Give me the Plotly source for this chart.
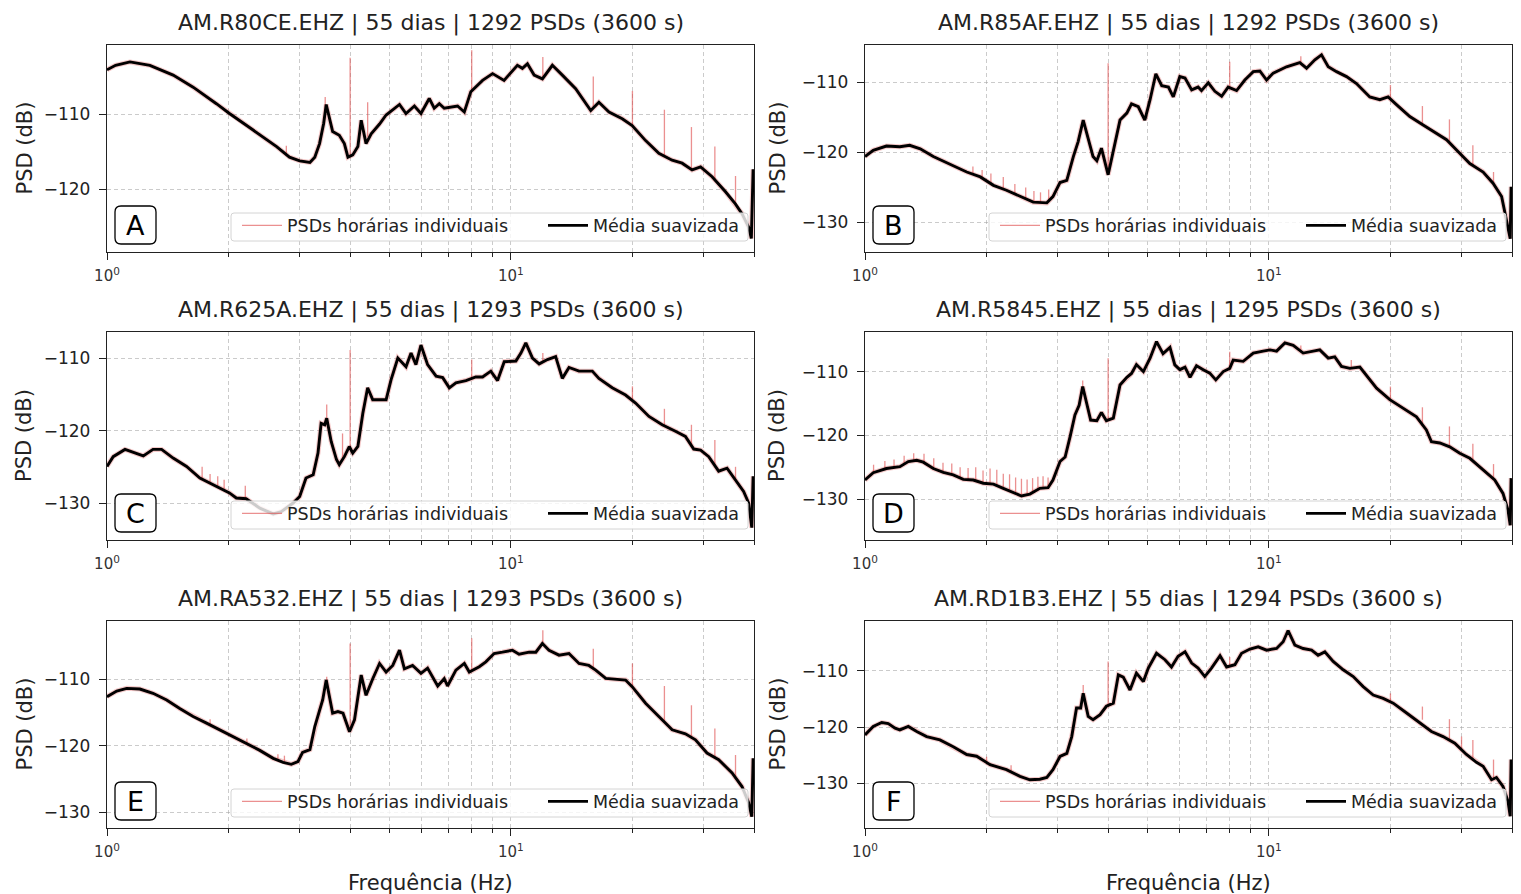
import math
import plotly.graph_objects as go

FIG_W, FIG_H = 1521, 894
FONT = "DejaVu Sans"

# ------------------------------------------------------------------ data
titles = [
    "AM.R80CE.EHZ | 55 dias | 1292 PSDs (3600 s)",
    "AM.R85AF.EHZ | 55 dias | 1292 PSDs (3600 s)",
    "AM.R625A.EHZ | 55 dias | 1293 PSDs (3600 s)",
    "AM.R5845.EHZ | 55 dias | 1295 PSDs (3600 s)",
    "AM.RA532.EHZ | 55 dias | 1293 PSDs (3600 s)",
    "AM.RD1B3.EHZ | 55 dias | 1294 PSDs (3600 s)",
]
panel_labels = ["A", "B", "C", "D", "E", "F"]
legend_names = ["PSDs horárias individuais", "Média suavizada"]
x_title = "Frequência (Hz)"
y_title = "PSD (dB)"
x_tickvals = [1, 10]
x_ticktext = ["10<sup>0</sup>", "10<sup>1</sup>"]
x_minor_tickvals = [2, 3, 4, 5, 6, 7, 8, 9, 20, 30, 40]

# --- Panel A (AM.R80CE)
freq_A = [1.0, 1.05, 1.14, 1.277, 1.458, 1.634, 1.866, 2.01, 2.30, 2.63, 2.83, 3.0, 3.18, 3.27,
          3.36, 3.44, 3.49, 3.56, 3.62, 3.76, 3.87, 3.95, 4.06, 4.18, 4.26, 4.38, 4.51, 4.73,
          4.91, 5.30, 5.5, 5.77, 5.99, 6.28, 6.46, 6.65, 6.84, 7.38, 7.67, 7.96, 8.51, 9.01,
          9.62, 10.38, 10.68, 10.99, 11.42, 11.97, 12.67, 13.41, 14.47, 15.77, 16.52, 17.5,
          18.87, 19.97, 21.56, 23.25, 25.08, 26.55, 28.1, 29.5, 31.5, 34.0, 35.97, 37.35,
          38.8, 39.4, 39.8]
psd_A = [-104.1, -103.5, -103.05, -103.5, -104.8, -106.4, -108.6, -109.9, -112.1, -114.3, -115.7,
         -116.2, -116.4, -115.7, -113.9, -111.2, -108.7, -110.8, -112.3, -112.8, -113.9, -115.7,
         -115.4, -114.3, -110.8, -113.9, -112.6, -111.3, -110.1, -108.7, -109.9, -108.9, -109.9,
         -107.9, -109.2, -108.6, -109.2, -108.9, -109.7, -107.0, -105.5, -104.6, -105.5, -103.5,
         -103.9, -103.3, -104.8, -105.3, -103.5, -104.8, -106.6, -109.5, -108.4, -109.7, -110.6,
         -111.5, -113.5, -115.2, -116.1, -116.5, -117.4, -117.0, -118.3, -120.3, -121.9, -123.2,
         -125.0, -126.5, -117.3]
spike_f_A = [2.78, 3.47, 4.0, 4.42, 8.0, 12.0, 16.0, 20.0, 24.0, 28.0, 32.0, 36.0]
spike_lo_A = [-115.5, -109.5, -115.5, -113.0, -107.0, -105.2, -109.3, -111.5, -115.4, -117.3, -118.8, -122.0]
spike_hi_A = [-114.2, -107.7, -102.5, -108.4, -101.5, -102.4, -105.0, -106.9, -109.4, -111.7, -114.3, -118.2]

# --- Panel B (AM.R85AF)
freq_B = [1.0, 1.048, 1.13, 1.22, 1.29, 1.37, 1.476, 1.62, 1.786, 1.93, 2.08, 2.24, 2.42, 2.61,
          2.82, 2.92, 3.04, 3.16, 3.28, 3.37, 3.47, 3.57, 3.67, 3.75, 3.85, 4.0, 4.12, 4.28, 4.45,
          4.57, 4.75, 4.93, 5.08, 5.25, 5.43, 5.64, 5.8, 6.02, 6.2, 6.44, 6.68, 6.81, 7.08, 7.35,
          7.64, 7.93, 8.32, 8.72, 9.15, 9.5, 9.87, 10.25, 11.06, 11.93, 12.4, 13.0, 13.5, 14.03,
          14.71, 15.57, 16.48, 17.78, 18.83, 19.74, 20.7, 22.34, 24.1, 26.0, 27.54, 29.44, 31.45,
          33.93, 35.9, 37.7, 38.7, 39.6, 39.8]
psd_B = [-120.6, -119.7, -119.1, -119.2, -119.0, -119.5, -120.6, -121.7, -122.8, -123.5, -124.7,
         -125.4, -126.3, -127.1, -127.2, -126.3, -124.3, -124.0, -120.6, -118.5, -115.4, -118.2,
         -120.6, -121.2, -119.4, -123.2, -119.7, -115.4, -114.4, -113.1, -113.5, -115.4, -112.5,
         -108.8, -110.5, -110.7, -112.1, -109.2, -109.4, -111.1, -110.7, -111.2, -110.1, -111.3,
         -112.0, -110.7, -111.2, -109.7, -108.5, -108.4, -109.7, -108.7, -107.8, -107.2, -108.0,
         -106.8, -106.1, -107.8, -108.5, -109.2, -110.2, -112.1, -112.5, -112.1, -113.2, -114.9,
         -116.1, -117.3, -118.2, -119.9, -121.6, -122.8, -124.4, -126.3, -129.7, -132.3, -124.9]
spike_f_B = [1.85, 1.95, 2.05, 2.2, 2.35, 2.5, 2.62, 2.72, 2.85, 4.0, 8.0, 12.0, 20.0, 24.0, 28.0, 32.0, 36.0]
spike_lo_B = [-123.1, -123.6, -124.5, -125.2, -125.9, -126.6, -127.1, -127.2, -127.1,
              -123.2, -110.7, -107.5, -112.3, -115.8, -118.5, -121.8, -124.4]
spike_hi_B = [-122.0, -122.5, -123.0, -123.5, -124.5, -125.0, -125.5, -125.7, -125.3,
              -107.3, -107.1, -106.3, -110.4, -113.4, -115.3, -119.0, -122.8]

# --- Panel C (AM.R625A)
freq_C = [1.0, 1.036, 1.108, 1.173, 1.23, 1.30, 1.365, 1.458, 1.574, 1.698, 1.83, 1.90, 2.01, 2.09,
          2.21, 2.39, 2.58, 2.70, 2.89, 3.0, 3.11, 3.24, 3.33, 3.39, 3.46, 3.50, 3.59, 3.70, 3.76,
          3.87, 3.98, 4.06, 4.18, 4.30, 4.42, 4.55, 4.91, 5.05, 5.25, 5.5, 5.66, 5.82, 5.99, 6.22,
          6.53, 6.78, 7.04, 7.31, 7.74, 8.19, 8.51, 8.92, 9.27, 9.63, 10.29, 10.59, 10.89, 11.31,
          11.75, 12.32, 12.91, 13.41, 13.93, 14.75, 15.91, 16.52, 17.82, 19.23, 20.36, 21.98, 23.7,
          25.56, 27.05, 28.37, 29.5, 30.9, 32.7, 34.3, 35.97, 37.7, 38.8, 39.5, 39.8]
psd_C = [-124.95, -123.6, -122.6, -123.1, -123.5, -122.6, -122.6, -123.8, -124.95, -126.55, -127.5,
         -127.9, -128.6, -129.3, -129.4, -130.7, -131.5, -131.2, -130.0, -129.1, -126.55, -126.1,
         -123.1, -119.0, -119.2, -118.3, -121.5, -124.0, -124.7, -123.6, -122.2, -123.1, -122.2,
         -117.6, -114.1, -115.75, -115.75, -113.0, -110.0, -111.2, -109.3, -110.9, -108.2, -110.9,
         -112.5, -112.7, -114.1, -113.4, -113.1, -112.6, -112.6, -111.8, -113.1, -110.5, -110.4,
         -109.3, -107.9, -110.0, -110.8, -110.2, -109.8, -112.8, -111.3, -111.8, -111.8, -112.8,
         -114.1, -115.1, -116.2, -118.05, -119.2, -120.1, -120.8, -122.55, -122.7, -123.6, -125.6,
         -125.2, -126.8, -128.4, -130.0, -133.4, -126.3]
spike_f_C = [1.72, 1.80, 1.88, 1.95, 2.2, 3.5, 3.83, 4.0, 8.0, 12.0, 20.0, 24.0, 28.0, 32.0, 36.0]
spike_lo_C = [-126.7, -127.2, -127.8, -128.1, -129.4, -118.5, -124.0, -122.5, -112.8, -110.5,
              -116.0, -119.3, -122.3, -125.0, -126.8]
spike_hi_C = [-125.0, -126.0, -126.3, -126.8, -127.6, -116.4, -120.4, -108.9, -110.2, -109.3,
              -113.9, -117.0, -119.2, -121.3, -125.0]

# --- Panel D (AM.R5845)
freq_D = [1.0, 1.048, 1.13, 1.22, 1.28, 1.343, 1.394, 1.476, 1.563, 1.654, 1.751, 1.854, 1.963,
          2.08, 2.20, 2.33, 2.44, 2.56, 2.71, 2.84, 2.92, 3.04, 3.13, 3.22, 3.31, 3.39, 3.46, 3.54,
          3.62, 3.75, 3.85, 3.96, 4.12, 4.28, 4.45, 4.57, 4.70, 4.89, 5.08, 5.27, 5.47, 5.69, 5.85,
          6.02, 6.2, 6.38, 6.62, 6.88, 7.14, 7.39, 7.71, 8.0, 8.16, 8.64, 9.15, 9.68, 10.06, 10.45,
          10.96, 11.49, 12.16, 12.88, 13.37, 14.03, 14.56, 15.13, 15.87, 16.80, 17.29, 18.48,
          19.93, 21.5, 23.2, 24.55, 25.27, 26.5, 28.05, 29.7, 31.45, 33.93, 36.25, 38.0, 39.1,
          39.6, 39.8]
psd_D = [-127.0, -125.85, -125.2, -124.9, -124.1, -123.9, -124.2, -125.2, -125.8, -126.2, -126.9,
         -127.0, -127.5, -127.65, -128.3, -129.0, -129.5, -129.2, -128.3, -128.2, -127.0, -124.1,
         -123.4, -120.2, -116.8, -115.3, -112.35, -115.0, -117.6, -117.7, -116.4, -117.7, -117.3,
         -112.1, -110.9, -110.3, -108.9, -110.0, -107.9, -105.3, -107.2, -106.2, -108.95, -109.7,
         -109.3, -110.9, -109.1, -109.7, -110.25, -111.3, -110.0, -109.5, -108.2, -108.4, -107.1,
         -106.8, -106.6, -106.8, -105.5, -105.9, -107.1, -106.8, -106.6, -107.9, -107.7, -109.2,
         -109.5, -109.3, -110.25, -112.6, -114.4, -115.75, -117.1, -119.15, -121.0, -121.2, -121.8,
         -122.8, -123.6, -125.4, -127.0, -129.1, -131.7, -134.1, -126.7]
spike_f_D = [1.05, 1.12, 1.18, 1.25, 1.32, 1.40, 1.48, 1.56, 1.64, 1.72, 1.80, 1.88, 1.96, 2.04,
             2.12, 2.20, 2.28, 2.36, 2.44, 2.52, 2.60, 2.68, 2.76, 2.84,
             3.46, 4.0, 8.0, 12.0, 16.0, 20.0, 24.0, 28.0, 32.0, 36.0]
spike_lo_D = [-125.8, -125.3, -125.0, -124.5, -123.9, -124.2, -125.2, -125.8, -126.1, -126.7,
              -126.9, -127.1, -127.5, -127.6, -127.8, -128.3, -128.7, -129.1, -129.5, -129.3,
              -129.0, -128.5, -128.3, -128.2,
              -112.5, -117.5, -109.5, -107.0, -109.4, -114.4, -118.5, -121.8, -123.8, -126.9]
spike_hi_D = [-124.6, -124.0, -123.8, -123.2, -122.8, -122.9, -123.6, -124.3, -124.4, -125.0,
              -125.1, -125.0, -125.5, -125.2, -125.4, -126.0, -126.1, -126.6, -126.8, -126.9,
              -126.7, -126.5, -126.4, -126.6,
              -111.4, -107.9, -106.9, -105.9, -108.2, -112.35, -115.6, -118.6, -121.3, -124.5]

# --- Panel E (AM.RA532)
freq_E = [1.0, 1.057, 1.119, 1.206, 1.30, 1.405, 1.514, 1.634, 1.764, 1.902, 2.05, 2.21, 2.39, 2.58,
          2.73, 2.86, 2.97, 3.05, 3.18, 3.27, 3.36, 3.42, 3.49, 3.56, 3.62, 3.73, 3.84, 3.985, 4.10,
          4.26, 4.38, 4.55, 4.73, 4.91, 5.1, 5.30, 5.45, 5.71, 5.99, 6.22, 6.59, 6.84, 6.97, 7.31,
          7.67, 7.89, 8.35, 8.67, 9.09, 9.53, 10.09, 10.48, 11.1, 11.53, 11.97, 12.43, 13.16,
          13.93, 14.75, 15.6, 16.22, 17.18, 18.18, 19.23, 19.97, 21.56, 23.25, 25.08, 27.05,
          28.65, 30.6, 32.7, 35.3, 37.35, 38.8, 39.5, 39.8]
psd_E = [-112.6, -111.75, -111.35, -111.45, -112.1, -113.1, -114.4, -115.6, -116.6, -117.6, -118.6,
         -119.6, -120.7, -121.9, -122.5, -122.8, -122.4, -121.0, -120.6, -117.1, -114.6, -113.1,
         -110.1, -112.85, -115.1, -114.85, -115.1, -117.9, -116.1, -109.35, -112.4, -109.9, -107.6,
         -108.9, -107.9, -105.6, -108.4, -107.9, -109.1, -108.3, -111.0, -109.9, -111.0, -108.6,
         -107.6, -108.9, -108.1, -107.35, -106.1, -105.9, -105.6, -106.2, -105.9, -105.9, -104.6,
         -105.6, -106.35, -106.1, -107.6, -107.9, -108.6, -109.85, -110.0, -110.1, -111.1, -113.6,
         -115.6, -117.6, -118.2, -119.1, -121.1, -122.1, -124.1, -126.15, -128.6, -130.7, -121.9]
spike_f_E = [1.8, 2.22, 2.65, 2.75, 3.5, 4.0, 8.0, 12.0, 16.0, 20.0, 24.0, 28.0, 32.0, 36.0]
spike_lo_E = [-116.9, -119.7, -122.2, -122.6, -110.5, -117.8, -108.7, -104.8, -108.3, -111.1,
              -116.4, -118.8, -121.8, -125.0]
spike_hi_E = [-116.0, -118.9, -121.3, -121.5, -109.6, -104.6, -103.8, -102.6, -105.4, -107.6,
              -111.0, -113.9, -117.4, -121.4]

# --- Panel F (AM.RD1B3)
freq_F = [1.0, 1.048, 1.10, 1.142, 1.187, 1.22, 1.28, 1.343, 1.421, 1.533, 1.654, 1.786, 1.89, 2.04,
          2.24, 2.42, 2.56, 2.71, 2.82, 2.92, 3.04, 3.16, 3.25, 3.34, 3.42, 3.47, 3.57, 3.67, 3.82,
          3.96, 4.12, 4.24, 4.36, 4.53, 4.70, 4.89, 5.03, 5.27, 5.53, 5.74, 5.96, 6.2, 6.44, 6.68,
          6.94, 7.21, 7.57, 7.86, 8.24, 8.56, 8.98, 9.41, 9.87, 10.45, 10.85, 11.16, 11.6, 12.16,
          12.76, 13.24, 13.76, 14.43, 15.28, 16.18, 17.12, 18.13, 19.19, 20.32, 21.93, 23.65,
          25.27, 27.0, 28.87, 30.85, 32.66, 33.93, 35.6, 36.6, 38.0, 39.1, 39.6, 39.8]
psd_F = [-121.4, -119.9, -119.2, -119.4, -120.2, -120.5, -119.9, -120.8, -121.7, -122.3, -123.5,
         -124.9, -125.2, -126.7, -127.6, -128.8, -129.4, -129.3, -129.0, -127.6, -125.25, -124.7,
         -121.7, -116.6, -116.6, -114.0, -118.1, -118.7, -117.8, -116.3, -115.75, -110.7, -111.1,
         -113.4, -110.4, -111.9, -109.5, -106.85, -108.0, -109.3, -107.4, -106.6, -108.6, -109.5,
         -111.0, -109.5, -107.3, -109.3, -108.9, -106.85, -106.1, -105.7, -106.3, -106.0, -104.8,
         -102.8, -105.4, -106.0, -106.3, -107.2, -106.6, -108.3, -109.8, -111.0, -112.8, -114.3,
         -114.9, -115.75, -117.5, -119.3, -120.8, -121.7, -122.9, -124.9, -126.3, -127.0, -129.4,
         -129.0, -130.6, -133.25, -135.9, -125.8]
spike_f_F = [2.0, 2.3, 3.47, 4.0, 8.0, 20.0, 24.0, 28.0, 30.0, 32.0, 36.0]
spike_lo_F = [-126.4, -128.0, -114.5, -116.2, -109.1, -115.6, -118.7, -122.4, -123.9, -125.8, -129.2]
spike_hi_F = [-125.3, -126.8, -112.5, -108.3, -107.5, -114.0, -116.35, -118.6, -121.7, -122.3, -125.8]

panel_data = [
    (freq_A, psd_A, spike_f_A, spike_lo_A, spike_hi_A),
    (freq_B, psd_B, spike_f_B, spike_lo_B, spike_hi_B),
    (freq_C, psd_C, spike_f_C, spike_lo_C, spike_hi_C),
    (freq_D, psd_D, spike_f_D, spike_lo_D, spike_hi_D),
    (freq_E, psd_E, spike_f_E, spike_lo_E, spike_hi_E),
    (freq_F, psd_F, spike_f_F, spike_lo_F, spike_hi_F),
]

# ------------------------------------------------------------------ layout geometry (px)
y_ranges = [(-128.3, -100.8), (-134.2, -104.7), (-135.1, -106.4),
            (-136.4, -103.8), (-132.4, -101.2), (-138.0, -101.1)]
COLS = [(107, 754), (865, 1512)]
ROWS = [(45, 252), (332, 540), (621, 828)]
YTITLE_OFFSET = [83, 88]
X_RANGE = [0, math.log10(40)]


def PX(p):
    return p / FIG_W


def PY(p):
    return 1 - p / FIG_H


def rounded_rect(x0, y0, x1, y1, r):
    return (f"M {PX(x0 + r)},{PY(y0)} L {PX(x1 - r)},{PY(y0)} Q {PX(x1)},{PY(y0)} {PX(x1)},{PY(y0 + r)} "
            f"L {PX(x1)},{PY(y1 - r)} Q {PX(x1)},{PY(y1)} {PX(x1 - r)},{PY(y1)} "
            f"L {PX(x0 + r)},{PY(y1)} Q {PX(x0)},{PY(y1)} {PX(x0)},{PY(y1 - r)} "
            f"L {PX(x0)},{PY(y0 + r)} Q {PX(x0)},{PY(y0)} {PX(x0 + r)},{PY(y0)} Z")


def legend_key(k):
    return "legend" if k == 0 else f"legend{k + 1}"


fig = go.Figure()
annotations = []
shapes = []
layout_extra = {}

GRID = "rgba(160,160,160,0.55)"
DASH = "4px,3px"
TXT = "#222222"

for i in range(6):
    row, col = divmod(i, 2)
    l, r = COLS[col]
    t, b = ROWS[row]
    sfx = "" if i == 0 else str(i + 1)
    xa, ya = "x" + sfx, "y" + sfx
    leg_red, leg_blk = legend_key(2 * i), legend_key(2 * i + 1)
    freq, psd, sf, slo, shi = panel_data[i]

    # spread of individual PSDs (faint red band under the mean)
    fig.add_trace(go.Scatter(x=freq, y=psd, mode="lines",
                             line=dict(color="rgba(214,39,40,0.25)", width=5),
                             xaxis=xa, yaxis=ya, showlegend=False, hoverinfo="skip", legend=leg_red))
    # individual PSD spikes
    sx, sy = [], []
    for f, lo, hi in zip(sf, slo, shi):
        sx += [f, f, None]
        sy += [lo, hi, None]
    fig.add_trace(go.Scatter(x=sx, y=sy, mode="lines", name=legend_names[0],
                             line=dict(color="rgba(222,70,70,0.6)", width=1.3),
                             xaxis=xa, yaxis=ya, legend=leg_red, hoverinfo="skip"))
    # smoothed mean
    fig.add_trace(go.Scatter(x=freq, y=psd, mode="lines", name=legend_names[1],
                             line=dict(color="black", width=2.9),
                             xaxis=xa, yaxis=ya, legend=leg_blk))

    layout_extra["xaxis" + sfx] = dict(
        type="log", range=X_RANGE, domain=[PX(l), PX(r)], anchor=ya, automargin=False,
        showline=True, linecolor=TXT, linewidth=1.4, mirror=True,
        tickvals=x_tickvals, ticktext=x_ticktext, ticks="outside", ticklen=7, tickwidth=1.2,
        tickcolor=TXT, tickfont=dict(family=FONT, size=15, color="#333333"),
        ticklabelstandoff=3,
        showgrid=True, gridcolor=GRID, griddash=DASH, gridwidth=1, zeroline=False,
        minor=dict(tickvals=x_minor_tickvals, ticks="outside", ticklen=4, tickwidth=1,
                   tickcolor=TXT, showgrid=True, gridcolor=GRID, griddash=DASH, gridwidth=1),
    )
    layout_extra["yaxis" + sfx] = dict(
        range=list(y_ranges[i]), domain=[PY(b), PY(t)], anchor=xa, automargin=False,
        showline=True, linecolor=TXT, linewidth=1.4, mirror=True,
        dtick=10, tick0=0, ticks="outside", ticklen=7, tickwidth=1.2, tickcolor=TXT,
        tickfont=dict(family=FONT, size=17, color=TXT), ticklabelstandoff=5,
        showgrid=True, gridcolor=GRID, griddash=DASH, gridwidth=1, zeroline=False,
    )
    # legend frame (semi-transparent white, drawn above the curves)
    shapes.append(dict(type="path", xref="paper", yref="paper", layer="above",
                       path=rounded_rect(r - 523, b - 39, r - 6, b - 11, 3),
                       line=dict(color="#d4d4d4", width=1), fillcolor="rgba(255,255,255,0.8)"))
    leg_common = dict(y=PY(b - 26.5), xanchor="left", yanchor="middle", orientation="h",
                      bgcolor="rgba(0,0,0,0)", borderwidth=0, itemwidth=40,
                      font=dict(family=FONT, size=17.5, color=TXT))
    layout_extra[leg_red] = dict(x=PX(r - 517), **leg_common)
    layout_extra[leg_blk] = dict(x=PX(r - 211), **leg_common)

    # subplot title
    annotations.append(dict(text=titles[i], x=PX((l + r) / 2), y=PY(t - 7), xref="paper", yref="paper",
                            xanchor="center", yanchor="bottom", showarrow=False,
                            font=dict(family=FONT, size=22, color=TXT)))
    # y axis title
    annotations.append(dict(text=y_title, x=PX(l - YTITLE_OFFSET[col]), y=PY((t + b) / 2),
                            xref="paper", yref="paper",
                            xanchor="center", yanchor="middle", textangle=-90, showarrow=False,
                            font=dict(family=FONT, size=21, color=TXT)))
    # x axis title (bottom row only)
    if row == 2:
        annotations.append(dict(text=x_title, x=PX((l + r) / 2), y=PY(883), xref="paper", yref="paper",
                                xanchor="center", yanchor="middle", showarrow=False,
                                font=dict(family=FONT, size=21, color=TXT)))
    # panel letter in rounded box
    shapes.append(dict(type="path", xref="paper", yref="paper", layer="above",
                       path=rounded_rect(l + 8, b - 46, l + 49, b - 8, 6),
                       line=dict(color="black", width=1.3), fillcolor="white"))
    annotations.append(dict(text=panel_labels[i], x=PX(l + 28.5), y=PY(b - 26.5), xref="paper", yref="paper",
                            xanchor="center", yanchor="middle", showarrow=False,
                            font=dict(family=FONT, size=27, color="black")))

fig.update_layout(
    width=FIG_W, height=FIG_H,
    margin=dict(l=0, r=0, t=0, b=0, autoexpand=False),
    paper_bgcolor="white", plot_bgcolor="white",
    font=dict(family=FONT, color=TXT),
    annotations=annotations, shapes=shapes,
    hovermode=False,
    **layout_extra,
)

fig.write_html("out.html")
